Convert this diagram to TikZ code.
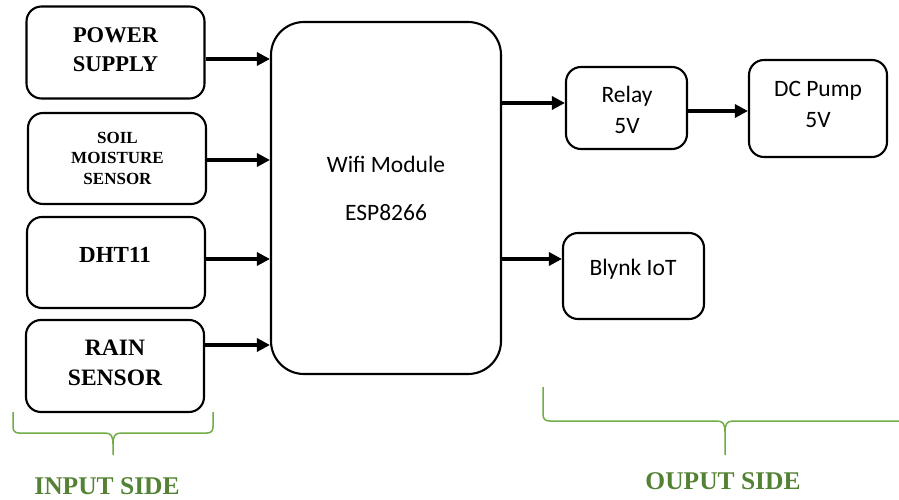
\documentclass[tikz,border=0pt]{standalone}
\usepackage{fontspec}
\setmainfont{Liberation Serif}
\newfontfamily\calib{Carlito}
\usetikzlibrary{arrows.meta}
\definecolor{bracegreen}{HTML}{70AD47}
\definecolor{textgreen}{HTML}{548235}
\begin{document}
\begin{tikzpicture}[x=1pt,y=-1pt,
  blockbox/.style={draw=black,line width=2.1pt,rounded corners=15pt,inner sep=0pt,fill=white},
  arr/.style={line width=3.2pt,-{Triangle[length=13pt,width=13pt]}},
  serifb/.style={font=\bfseries\fontsize{#1}{#1}\selectfont,anchor=base,inner sep=0pt},
  cal/.style={font=\calib\fontsize{23.5}{23.5}\selectfont,anchor=base,inner sep=0pt},
  brc/.style={draw=bracegreen,line width=1.5pt},
  side/.style={font=\bfseries\fontsize{25.5}{25.5}\selectfont,text=textgreen,anchor=base,inner sep=0pt}]
\useasboundingbox (0,0) rectangle (899,500);
% input boxes
\node[blockbox,minimum width=178pt,minimum height=92pt] (ps) at (115.5,52.5) {};
\node[blockbox,minimum width=178pt,minimum height=91pt] (soil) at (117,158.5) {};
\node[blockbox,minimum width=178pt,minimum height=91pt] (dht) at (116,262.5) {};
\node[blockbox,minimum width=178pt,minimum height=92pt] (rain) at (115,366) {};
% wifi
\node[blockbox,rounded corners=33pt,minimum width=230pt,minimum height=352pt] (wifi) at (386,198) {};
% outputs
\node[blockbox,minimum width=121pt,minimum height=82pt] (relay) at (626.5,108) {};
\node[blockbox,minimum width=138pt,minimum height=97pt] (pump) at (818,108.5) {};
\node[blockbox,minimum width=141pt,minimum height=86pt] (blynk) at (633.5,276) {};
% texts
\node[serifb=22.5] (ps1) at (115.5,43) {POWER};
\node[serifb=22.5] (ps2) at (115.5,72) {SUPPLY};
\node[serifb=17] (so1) at (117.5,143) {SOIL};
\node[serifb=17] (so2) at (117.5,163.5) {MOISTURE};
\node[serifb=17] (so3) at (117.5,184) {SENSOR};
\node[serifb=23] (dh1) at (115,262) {DHT11};
\node[serifb=23.5] (ra1) at (115,355) {RAIN};
\node[serifb=23.5] (ra2) at (115,385) {SENSOR};
\node[cal] (wf1) at (386,172) {Wifi Module};
\node[cal] (wf2) at (386,220) {ESP8266};
\node[cal] (re1) at (627,103) {Relay};
\node[cal] (re2) at (627,133) {5V};
\node[cal] (pu1) at (818,97) {DC Pump};
\node[cal] (pu2) at (818,128) {5V};
\node[cal] (bl1) at (633,275) {Blynk IoT};
% arrows
\draw[arr] (ps.east |- 0,59) -- (wifi.west |- 0,59);
\draw[arr] (soil.east |- 0,160) -- (wifi.west |- 0,160);
\draw[arr] (dht.east |- 0,259) -- (wifi.west |- 0,259);
\draw[arr] (rain.east |- 0,345) -- (wifi.west |- 0,345);
\draw[arr] (wifi.east |- 0,103) -- (relay.west |- 0,103);
\draw[arr] (relay.east |- 0,111) -- (pump.west |- 0,111);
\draw[arr] (wifi.east |- 0,259) -- (blynk.west |- 0,259);
% input brace
\coordinate (ib) at (113,455);
\draw[brc] (13,412) -- (13,427) .. controls (13,431) and (15,433) .. (19,433) -- (105,433)
  .. controls (111,433) and (113,436) .. (113,444) -- (ib);
\draw[brc] (213,412) -- (213,427) .. controls (213,431) and (211,433) .. (207,433) -- (121,433)
  .. controls (115,433) and (113,436) .. (113,444);
\node[side] (inl) at (107,494) {INPUT SIDE};
% output brace
\coordinate (ob) at (725,455);
\draw[brc] (543,387) -- (543,414) .. controls (543,419) and (545,421) .. (550,421) -- (717,421)
  .. controls (723,421) and (725,424) .. (725,432) -- (ob);
\draw[brc] (899,421) -- (733,421) .. controls (727,421) and (725,424) .. (725,432);
\node[side] (outl) at (723,489) {OUPUT SIDE};
\end{tikzpicture}
\end{document}
